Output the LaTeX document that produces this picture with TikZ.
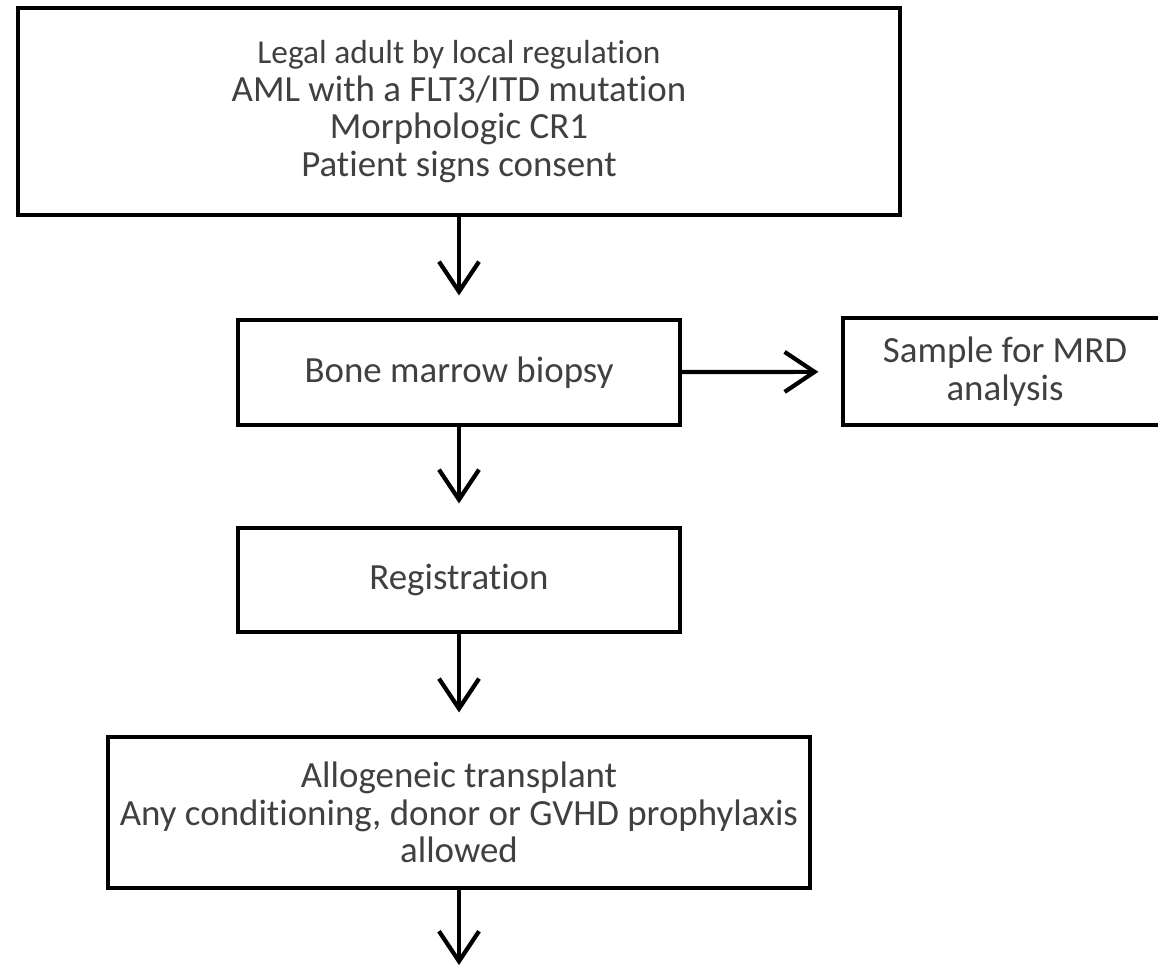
\documentclass[tikz,border=0pt]{standalone}
\usepackage{fontspec}
\setmainfont[Ligatures={NoCommon}]{Carlito}
\usetikzlibrary{arrows.meta}
\definecolor{txtgray}{HTML}{404040}
\begin{document}
\begin{tikzpicture}[
        arr/.style={-{Straight Barb[length=6mm, width=8mm, line width=2.4pt]}, line width=2.4pt, shorten >=0.45cm},
        box/.style={
            draw, line width=2.4pt, 
            align=center, text=txtgray,
            font=\fontsize{21}{21.5}\selectfont
        }
    ]
    \useasboundingbox (0,0) rectangle (23.16,-19.34);

    % 1. Criterios de entrada
    \node[box, minimum width=17.64cm, minimum height=4.14cm] (elig) at (9.18,-2.23)
        {{\fontsize{19}{21.5}\selectfont Legal adult by local regulation}\\
         AML with a FLT3/ITD mutation\\ Morphologic CR1\\ Patient signs consent};

    % 2. Biopsia
    \node[box, minimum width=8.84cm, minimum height=2.10cm] (bmb) at (9.18,-7.45) {Bone marrow biopsy};
    \draw[arr] (elig) -- (bmb);

    % 3. Muestra MRD
    \node[box, minimum width=6.48cm, minimum height=2.14cm] (mrd) at (20.1,-7.43) {Sample for MRD\\ analysis};
    \draw[arr] (bmb) -- (mrd);

    % 4. Registro
    \node[box, minimum width=8.84cm, minimum height=2.08cm] (reg) at (9.18,-11.6) {Registration};
    \draw[arr] (bmb) -- (reg);

    % 5. Trasplante
    \node[box, minimum width=14.04cm, minimum height=3.02cm] (allo) at (9.18,-16.25)
        {Allogeneic transplant\\ Any conditioning, donor or GVHD prophylaxis\\ allowed};
    \draw[arr] (reg) -- (allo);

    % 6. Salida inferior
    \coordinate (out) at (9.18,-19.75);
    \draw[arr] (allo) -- (out);

\end{tikzpicture}
\end{document}
